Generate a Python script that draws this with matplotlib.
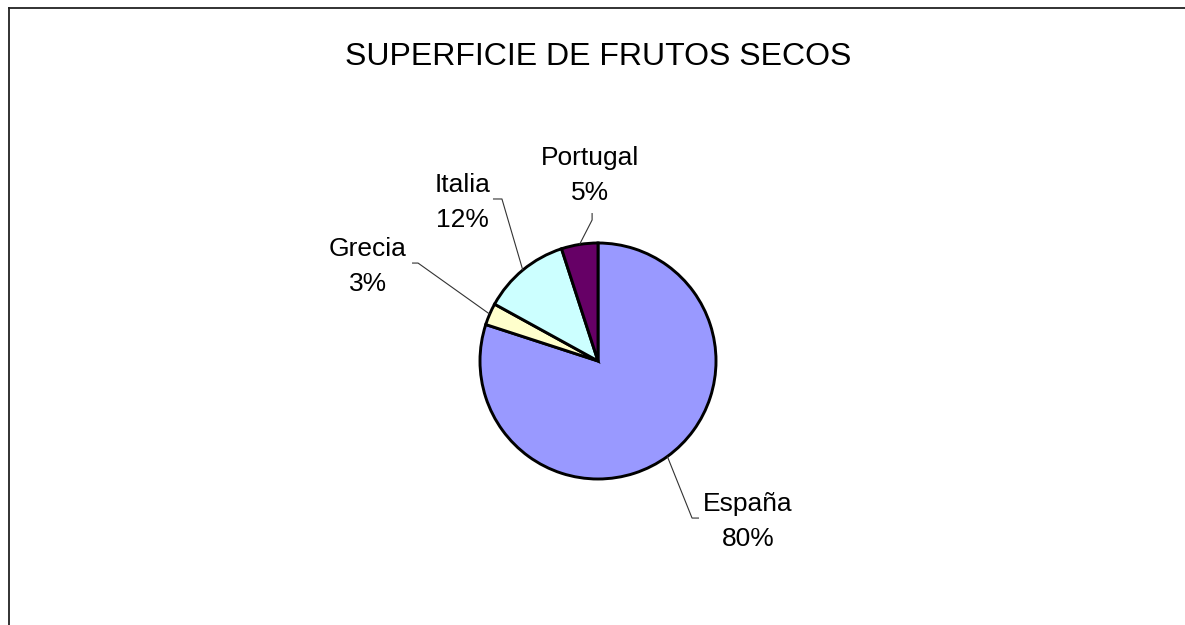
import numpy as np
import matplotlib
matplotlib.use("Agg")
from matplotlib import pyplot as plt
from matplotlib.lines import Line2D

plt.rcParams['font.family'] = ['Liberation Sans', 'DejaVu Sans']

# data
countries = ['España', 'Grecia', 'Italia', 'Portugal']
shares = [80, 3, 12, 5]
colors = ['#9999FF', '#FFFFCC', '#CCFFFF', '#660066']
title = 'SUPERFICIE DE FRUTOS SECOS'

W, H = 1185, 625
fig = plt.figure(figsize=(W / 100, H / 100), dpi=100)

# pie geometry in pixels: centre and radius
cx, cy, R = 598, 625 - 361, 118
ax = fig.add_axes([0, 0, 1, 1])
wedges, _ = ax.pie(shares, colors=colors, startangle=90, counterclock=False,
                   wedgeprops=dict(edgecolor='black', linewidth=2.1))
ax.set_xlim(-cx / R, (W - cx) / R)
ax.set_ylim(-cy / R, (H - cy) / R)
ax.set_aspect('auto')
ax.axis('off')

# label placement (text centre, elbow, stub end) in radius units
label_pos = {
    'España': ((1.27, -1.36), (0.797, -1.331), (0.856, -1.331)),
    'Grecia': ((-1.95, 0.80), (-1.525, 0.83), (-1.576, 0.83)),
    'Italia': ((-1.15, 1.34), (-0.814, 1.373), (-0.89, 1.373)),
    'Portugal': ((-0.07, 1.57), (-0.05, 1.195), (-0.05, 1.254)),
}

total = sum(shares)
for w, name, val in zip(wedges, countries, shares):
    ang = np.deg2rad((w.theta1 + w.theta2) / 2)
    px, py = np.cos(ang), np.sin(ang)
    (tx, ty), (ex, ey), (sx, sy) = label_pos[name]
    ax.plot([px, ex, sx], [py, ey, sy], color='#333333', lw=0.8,
            solid_capstyle='butt')
    ax.text(tx, ty, f'{name}\n{val / total * 100:.0f}%', ha='center',
            va='center', fontsize=19, linespacing=1.58, color='black')

fig.text(598 / W, (H - 65) / H, title, ha='center', va='baseline',
         fontsize=23, color='black')

# outer chart frame (only left and top edges visible)
fx, fy = 8.5 / W, (H - 7.5) / H
fig.add_artist(Line2D([fx, fx], [0, fy], color='#222222', lw=1.3,
                      transform=fig.transFigure))
fig.add_artist(Line2D([fx, 1], [fy, fy], color='#222222', lw=1.3,
                      transform=fig.transFigure))

fig.savefig('out.png', dpi=100, facecolor='white')
